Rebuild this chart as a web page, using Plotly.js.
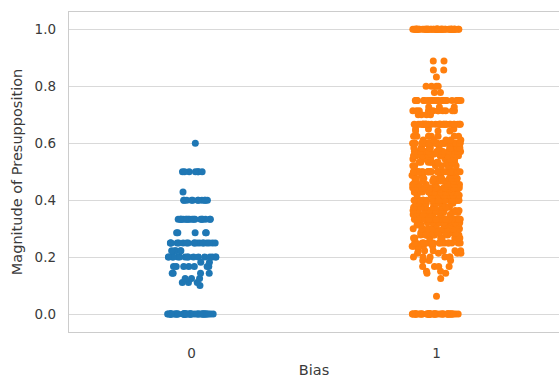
<!DOCTYPE html>
<html>
<head>
<meta charset="utf-8">
<script src="https://cdn.plot.ly/plotly-3.0.1.min.js"></script>
<style>
  html, body { margin: 0; padding: 0; background: #ffffff; }
  #chart { width: 559px; height: 378px; }
</style>
</head>
<body>
<div id="chart"></div>
<script>
// ---- Data (frequency tables) ----
const categories = [0, 1];
const tickLabels = ['0', '1'];

// Bias = 0 : distinct "Magnitude of Presupposition" values and how many points sit at each
const bias0Values = [0.0, 0.1, 0.111, 0.125, 0.143, 0.167, 0.182, 0.2, 0.222, 0.25, 0.286, 0.333, 0.4, 0.429, 0.5, 0.6];
const bias0Counts = [45, 1, 3, 3, 4, 7, 2, 16, 5, 18, 5, 18, 11, 1, 7, 1];

// Bias = 1
const bias1Values = [0.0, 0.063, 0.125, 0.143, 0.15, 0.167, 0.188, 0.2, 0.214, 0.222, 0.238, 0.25,
  0.267, 0.278, 0.286, 0.3, 0.313, 0.321, 0.333, 0.35, 0.357, 0.364, 0.375, 0.389, 0.4,
  0.417, 0.429, 0.438, 0.444, 0.455, 0.467, 0.476, 0.488, 0.5, 0.521, 0.533, 0.545, 0.556,
  0.562, 0.571, 0.583, 0.6, 0.611, 0.625, 0.643, 0.65, 0.667, 0.7, 0.714, 0.727, 0.75,
  0.778, 0.8, 0.833, 0.857, 0.889, 1.0];
const bias1Counts = [50, 1, 1, 2, 2, 4, 3, 6, 4, 6, 6, 18,
  8, 8, 12, 12, 8, 8, 28, 8, 8, 10, 13, 10, 28,
  13, 15, 8, 15, 10, 10, 10, 7, 38, 8, 10, 10, 15,
  10, 15, 12, 26, 5, 8, 3, 3, 30, 4, 12, 3, 25,
  2, 4, 1, 2, 2, 50];

const colors = ['#1f77b4', '#ff7f0e'];

function expand(values, counts) {
  const out = [];
  values.forEach((v, i) => { for (let k = 0; k < counts[i]; k++) out.push(v); });
  return out;
}

const seriesY = [expand(bias0Values, bias0Counts), expand(bias1Values, bias1Counts)];

const traces = categories.map((c, i) => ({
  type: 'box',
  x: seriesY[i].map(() => c),
  y: seriesY[i],
  boxpoints: 'all',
  jitter: 1,
  pointpos: 0,
  width: 0.2,
  fillcolor: 'rgba(0,0,0,0)',
  line: { width: 0, color: 'rgba(0,0,0,0)' },
  whiskerwidth: 0,
  marker: { color: colors[i], size: 7, opacity: 1, line: { width: 0 } },
  hoverinfo: 'skip',
  showlegend: false
}));

const font = { family: 'DejaVu Sans, sans-serif', color: '#3a3a3a' };

const layout = {
  width: 559,
  height: 378,
  margin: { l: 69, r: 0, t: 12, b: 46, pad: 0 },
  paper_bgcolor: '#ffffff',
  plot_bgcolor: '#ffffff',
  boxmode: 'overlay',
  showlegend: false,
  font: font,
  xaxis: {
    type: 'linear',
    range: [-0.5, 1.5],
    tickvals: categories,
    ticktext: tickLabels,
    showgrid: false,
    zeroline: false,
    showline: true,
    mirror: true,
    linecolor: '#cccccc',
    linewidth: 1.25,
    ticks: '',
    ticklabelstandoff: 9,
    tickfont: { family: font.family, size: 13.5, color: '#3a3a3a' },
    title: { text: 'Bias', font: { family: font.family, size: 14.5, color: '#3a3a3a' }, standoff: 7 },
    fixedrange: true
  },
  yaxis: {
    range: [-0.063, 1.061],
    tickvals: [0, 0.2, 0.4, 0.6, 0.8, 1.0],
    ticktext: ['0.0', '0.2', '0.4', '0.6', '0.8', '1.0'],
    showgrid: true,
    gridcolor: '#d9d9d9',
    gridwidth: 1,
    zeroline: false,
    showline: true,
    linecolor: '#cccccc',
    linewidth: 1.25,
    ticks: '',
    ticklabelstandoff: 9,
    tickfont: { family: font.family, size: 13.5, color: '#3a3a3a' },
    title: { text: 'Magnitude of Presupposition', font: { family: font.family, size: 14.5, color: '#3a3a3a' }, standoff: 8 },
    fixedrange: true
  }
};

Plotly.newPlot('chart', traces, layout, { staticPlot: true, displayModeBar: false });
</script>
</body>
</html>
